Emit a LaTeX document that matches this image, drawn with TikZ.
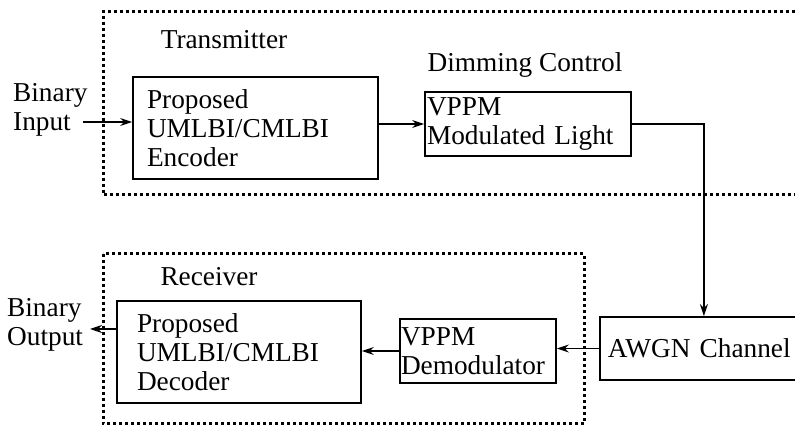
\documentclass[tikz,border=0pt]{standalone}
\usepackage{fontspec}
\setmainfont{Liberation Serif}
\usetikzlibrary{arrows.meta}
\tikzset{
  bloque/.style={draw, line width=1.8pt, align=left, inner ysep=0pt},
  flecha/.style={-{Stealth[length=12pt,width=8pt]}, line width=1.4pt},
  punteado/.style={line width=3pt, dash pattern=on 3pt off 3pt},
  etiqueta/.style={inner sep=0pt, align=left},
}
\begin{document}
\begin{tikzpicture}[x=1pt, y=1pt, font=\fontsize{27.3}{29}\selectfont]
\useasboundingbox (0,0) rectangle (795,433);

% Zonas punteadas
\draw[punteado] (795,421) -- (103,421) -- (103,238) -- (795,238);
\draw[punteado] (103,179) rectangle (584,9);

% Bloques
\node[bloque, text width=217pt, inner xsep=14pt, minimum height=102pt] (cod) at (255.5,305) {Proposed\\UMLBI/CMLBI\\Encoder};
\node[bloque, text width=202pt, inner xsep=2pt, minimum height=64pt] (mod) at (528,309) {VPPM\\Modulated Light};
\node[bloque, text width=192pt, inner xsep=8pt, minimum height=63pt, anchor=west] (awgn) at (599,84.5) {AWGN Channel};
\node[bloque, text width=154pt, inner xsep=1pt, minimum height=64pt] (dem) at (478,82) {VPPM\\Demodulator};
\node[bloque, text width=204pt, inner xsep=20pt, minimum height=102pt] (dec) at (239,81) {Proposed\\UMLBI/CMLBI\\Decoder};

% Etiquetas
\node[etiqueta] (tx) at (224,393) {Transmitter};
\node[etiqueta] (dim) at (525,368) {Dimming Control};
\node[etiqueta] (rx) at (209,156) {Receiver};
\node[etiqueta, anchor=west] (ent) at (13,323) {Binary\\Input};
\node[etiqueta, anchor=west] (sal) at (7,108) {Binary\\Output};

% Flechas
\coordinate (pent) at (83,311);
\coordinate (psal) at (90,104);
\draw[flecha] (pent) -- (pent -| cod.west);
\draw[flecha] (cod.east |- mod.west) -- (mod.west);
\draw[flecha] (mod.east) -| (awgn.north);
\draw[flecha] (awgn.west) -- (awgn.west -| dem.east);
\draw[flecha] (dem.west) -- (dem.west -| dec.east);
\draw[flecha] (dec.west |- psal) -- (psal);
\end{tikzpicture}
\end{document}
